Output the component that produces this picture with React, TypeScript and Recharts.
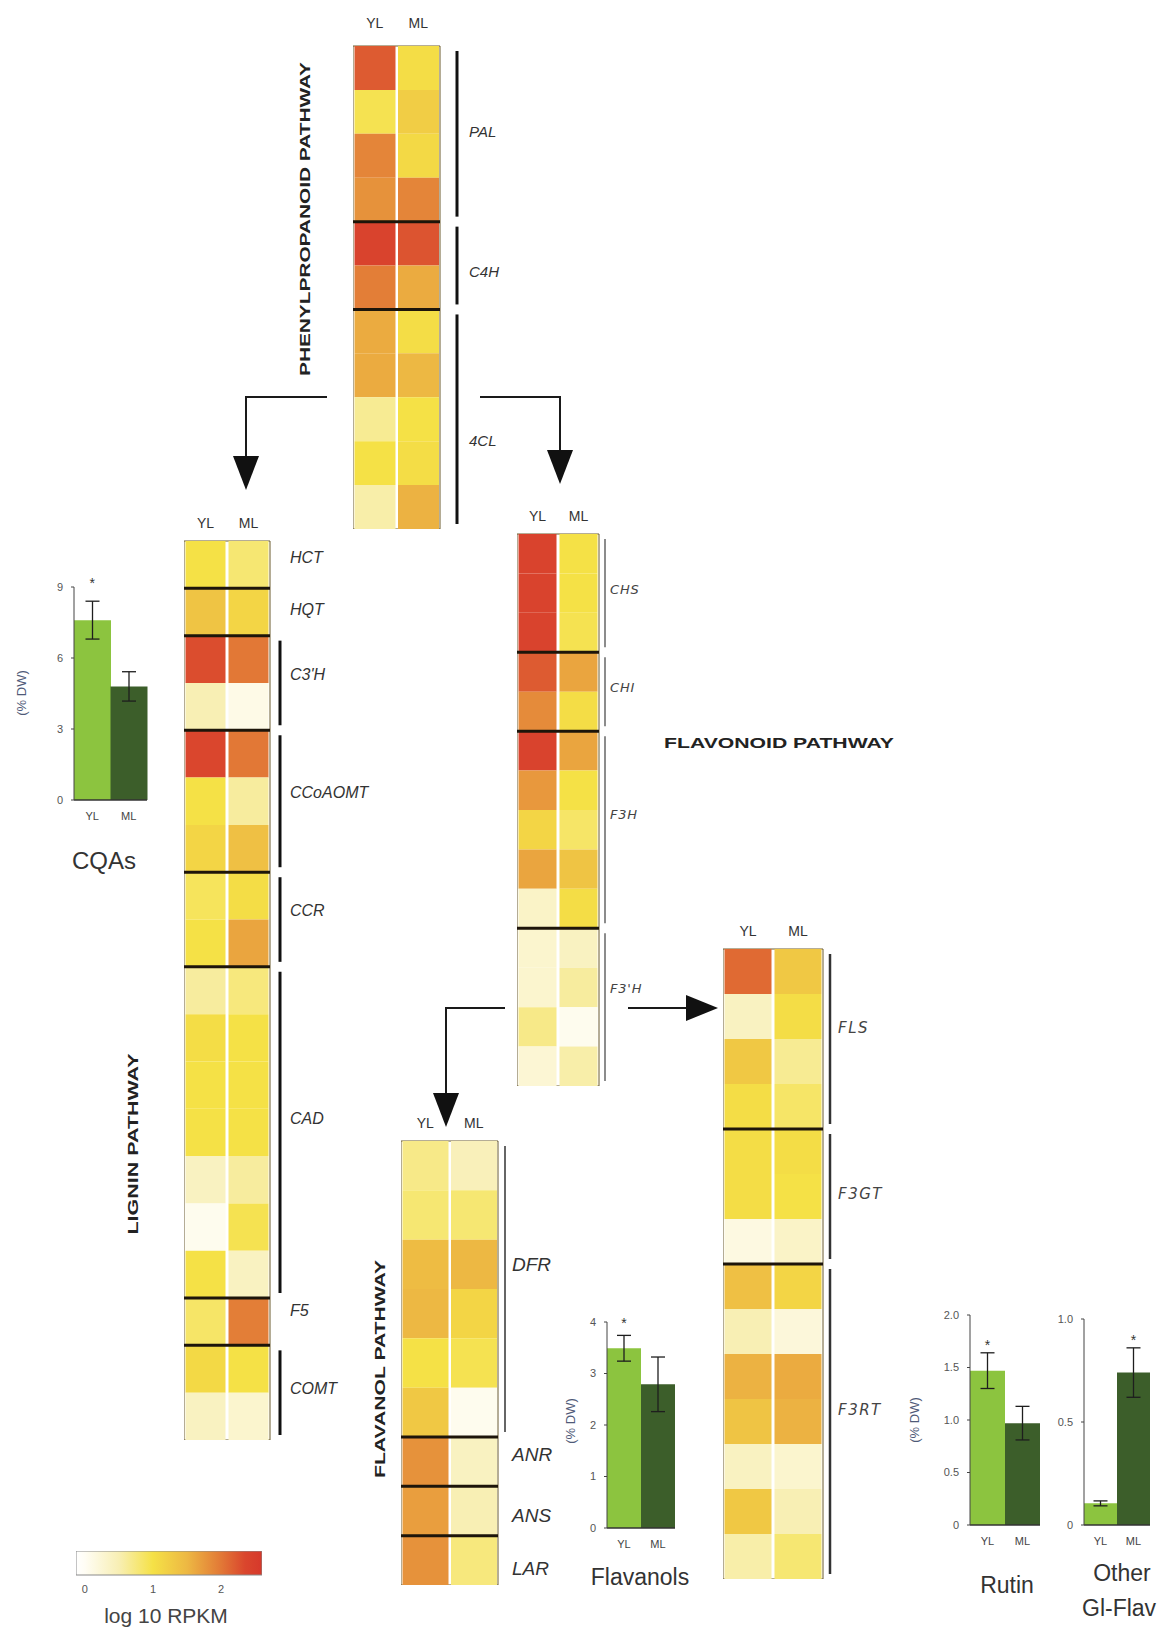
import React from "react";
import {
	BarChart,
	Bar,
	Cell,
	XAxis,
	YAxis,
	ReferenceLine,
	ReferenceArea,
	ReferenceDot,
	ErrorBar,
	ComposedChart,
	Line,
} from "recharts";

const cols = ["YL", "ML"];

// log10 RPKM per gene row, YL / ML
const ppGenes = ["PAL", "C4H", "4CL"];
const ppSizes = [4, 2, 5];
const ppYL = [2.2, 0.95, 1.9, 1.8, 2.4, 1.95, 1.6, 1.6, 0.65, 1.0, 0.55];
const ppML = [1.05, 1.25, 1.1, 1.9, 2.25, 1.6, 1.05, 1.5, 1.0, 1.05, 1.55];

const ligGenes = ["HCT", "HQT", "C3'H", "CCoAOMT", "CCR", "CAD", "F5", "COMT"];
const ligSizes = [1, 1, 2, 3, 2, 7, 1, 2];
const ligYL = [1.0, 1.35, 2.3, 0.5, 2.35, 1.0, 1.15, 0.9, 1.0, 0.6, 1.05, 1.0, 1.0, 0.4, 0.05, 1.0, 0.85, 1.1, 0.4];
const ligML = [0.8, 1.15, 2.0, 0.1, 2.0, 0.6, 1.4, 1.05, 1.65, 0.75, 1.0, 1.0, 1.0, 0.6, 0.95, 0.4, 1.95, 1.0, 0.3];

const flvGenes = ["CHS", "CHI", "F3H", "F3'H"];
const flvSizes = [3, 2, 5, 4];
const flvYL = [2.4, 2.4, 2.4, 2.2, 1.85, 2.4, 1.75, 1.15, 1.65, 0.35, 0.3, 0.3, 0.7, 0.25];
const flvML = [1.0, 1.0, 0.95, 1.65, 1.05, 1.65, 1.0, 0.85, 1.35, 1.05, 0.4, 0.6, 0.05, 0.55];

const flsGenes = ["FLS", "F3GT", "F3RT"];
const flsSizes = [4, 3, 7];
const flsYL = [2.1, 0.4, 1.3, 1.05, 1.05, 1.05, 0.15, 1.4, 0.5, 1.55, 1.35, 0.4, 1.3, 0.55];
const flsML = [1.3, 1.05, 0.65, 0.85, 1.05, 1.0, 0.35, 1.15, 0.2, 1.6, 1.55, 0.3, 0.5, 0.8];

const fvlGenes = ["DFR", "ANR", "ANS", "LAR"];
const fvlSizes = [6, 1, 1, 1];
const fvlYL = [0.7, 0.8, 1.45, 1.5, 1.0, 1.3, 1.8, 1.7, 1.8];
const fvlML = [0.45, 0.8, 1.5, 1.15, 0.95, 0.05, 0.4, 0.5, 0.75];

// metabolite contents (% DW), mean and error
const cqaVals = [7.6, 4.8];
const cqaErrs = [0.8, 0.62];
const flavanolVals = [3.49, 2.79];
const flavanolErrs = [0.25, 0.53];
const rutinVals = [1.47, 0.97];
const rutinErrs = [0.17, 0.16];
const otherVals = [0.105, 0.74];
const otherErrs = [0.012, 0.12];

const legendTicks = [0, 1, 2];
const legendDomain: [number, number] = [-0.13, 2.6];

// colour scale of the heatmaps
const heatStops: [number, string][] = [
	[-0.13, "#ffffff"],
	[0, "#fffdf4"],
	[0.5, "#f8efb4"],
	[1.0, "#f5e146"],
	[1.5, "#edb843"],
	[2.0, "#e27836"],
	[2.35, "#da462d"],
	[2.6, "#d6382b"],
];

const hex = (c: string) => [1, 3, 5].map((i) => parseInt(c.slice(i, i + 2), 16));

function heat(v: number) {
	const s = heatStops;
	if (v <= s[0][0]) return s[0][1];
	for (let i = 1; i < s.length; i++) {
		if (v <= s[i][0]) {
			const t = (v - s[i - 1][0]) / (s[i][0] - s[i - 1][0]);
			const a = hex(s[i - 1][1]);
			const b = hex(s[i][1]);
			const m = a.map((x, k) => Math.round(x + (b[k] - x) * t));
			return `rgb(${m[0]},${m[1]},${m[2]})`;
		}
	}
	return s[s.length - 1][1];
}

const SANS = "'Liberation Sans', Arial, sans-serif";
const NARROW = "'Liberation Sans Narrow', 'Liberation Sans', Arial, sans-serif";
const WIDE = "'DejaVu Sans', Verdana, sans-serif";

interface HeatProps {
	yl: number[];
	ml: number[];
	genes: string[];
	sizes: number[];
	left: number;
	top: number;
	w: number;
	h: number;
	axisW: number;
	bracketDx: number;
	labelDx: number;
	labelDy: number[];
	fontSize: number;
	font: string;
	spacing?: number;
	bracketColor: string;
	bracketW: number;
	labelColor?: string;
	headGap?: number;
}

function Heatmap(p: HeatProps) {
	const headH = 40;
	const n = p.yl.length;
	const keys = p.yl.map((_, i) => `r${i}`);
	const data = cols.map((c) => {
		const o: Record<string, any> = { col: c };
		keys.forEach((k) => (o[k] = 1));
		return o;
	});
	const starts = [0];
	p.sizes.forEach((s) => starts.push(starts[starts.length - 1] + s));
	const mids = p.sizes.map((s, i) => starts[i] + s / 2);
	const rowPx = p.h / n;

	const tick = (t: any) => {
		const idx = mids.indexOf(t.payload.value);
		if (idx < 0) return <g />;
		const half = (p.sizes[idx] / 2) * rowPx;
		return (
			<g>
				{p.sizes[idx] > 1 && (
					<line
						x1={t.x + p.bracketDx}
						x2={t.x + p.bracketDx}
						y1={t.y - half + 5}
						y2={t.y + half - 5}
						stroke={p.bracketColor}
						strokeWidth={p.bracketW}
					/>
				)}
				<text
					x={t.x + p.labelDx}
					y={t.y + p.labelDy[idx]}
					dy="0.35em"
					fontSize={p.fontSize}
					fontStyle="italic"
					fontFamily={p.font}
					letterSpacing={p.spacing ?? 0}
					fill={p.labelColor ?? "#333"}
				>
					{p.genes[idx]}
				</text>
			</g>
		);
	};

	return (
		<div style={{ position: "absolute", left: p.left, top: p.top - headH }}>
			<BarChart
				width={p.w + p.axisW}
				height={p.h + headH}
				data={data}
				margin={{ top: 0, right: 0, bottom: 0, left: 0 }}
				barCategoryGap={1.5}
			>
				<XAxis
					dataKey="col"
					orientation="top"
					height={headH}
					axisLine={false}
					tickLine={false}
					tickSize={0}
					tickMargin={p.headGap ?? 13}
					tick={{ fontSize: 14, fill: "#333", fontFamily: NARROW }}
				/>
				<YAxis
					type="number"
					orientation="right"
					domain={[0, n]}
					reversed
					ticks={mids}
					interval={0}
					width={p.axisW}
					axisLine={false}
					tickLine={false}
					tickSize={0}
					tickMargin={0}
					tick={tick}
				/>
				{keys.map((k, i) => (
					<Bar key={k} dataKey={k} stackId="s" isAnimationActive={false}>
						<Cell fill={heat(p.yl[i])} />
						<Cell fill={heat(p.ml[i])} />
					</Bar>
				))}
				{starts.slice(1, -1).map((b) => (
					<ReferenceLine key={b} y={b} stroke="#1d150a" strokeWidth={3} />
				))}
				<ReferenceArea y1={0} y2={n} fill="none" stroke="#6a5a2c" strokeWidth={1} />
			</BarChart>
		</div>
	);
}

interface BarsProps {
	vals: number[];
	errs: number[];
	starIdx: number;
	starY: number;
	max: number;
	ticks: number[];
	fmt: (v: number) => string;
	axisX: number;
	y0: number;
	yTop: number;
	barW: number;
}

function MiniBars(p: BarsProps) {
	const axisW = 32;
	const topM = 14;
	const xH = 22;
	const data = cols.map((c, i) => ({ name: c, v: p.vals[i], err: p.errs[i] }));
	const plotH = p.y0 - p.yTop;
	return (
		<div style={{ position: "absolute", left: p.axisX - axisW, top: p.yTop - topM }}>
			<BarChart
				width={axisW + 2 * p.barW + 2}
				height={topM + plotH + xH}
				data={data}
				margin={{ top: topM, right: 2, bottom: 0, left: 0 }}
				barCategoryGap={0}
			>
				<XAxis
					dataKey="name"
					height={xH}
					axisLine={{ stroke: "#333", strokeWidth: 1.5 }}
					tickLine={false}
					tickMargin={6}
					tick={{ fontSize: 11, fill: "#444", fontFamily: NARROW }}
				/>
				<YAxis
					type="number"
					domain={[0, p.max]}
					ticks={p.ticks}
					interval={0}
					width={axisW}
					tickFormatter={p.fmt}
					axisLine={{ stroke: "#444" }}
					tickLine={{ stroke: "#444" }}
					tickSize={3}
					tickMargin={8}
					tick={{ fontSize: 11, fill: "#555", fontFamily: SANS }}
				/>
				<Bar dataKey="v" isAnimationActive={false}>
					<Cell fill="#8cc43f" />
					<Cell fill="#3c5e2a" />
					<ErrorBar dataKey="err" width={7} stroke="#1e1e1e" strokeWidth={1.3} direction="y" />
				</Bar>
				<ReferenceDot
					x={cols[p.starIdx]}
					y={p.starY}
					r={0}
					ifOverflow="visible"
					shape={(s: any) => (
						<text x={s.cx} y={s.cy} dy="0.55em" textAnchor="middle" fontSize={14} fill="#333" fontFamily={SANS}>
							*
						</text>
					)}
				/>
			</BarChart>
		</div>
	);
}

function HeatLegend() {
	const span = legendDomain[1] - legendDomain[0];
	return (
		<div style={{ position: "absolute", left: 76, top: 1551 }}>
			<ComposedChart
				width={186}
				height={44}
				data={legendDomain.map((v) => ({ v, y: 0.5 }))}
				margin={{ top: 0, right: 0, bottom: 0, left: 0 }}
			>
				<defs>
					<linearGradient id="heatGrad" x1="0" x2="1" y1="0" y2="0">
						{heatStops.map(([v, c]) => (
							<stop key={v} offset={(v - legendDomain[0]) / span} stopColor={c} />
						))}
					</linearGradient>
				</defs>
				<XAxis
					dataKey="v"
					type="number"
					domain={legendDomain}
					ticks={legendTicks}
					allowDataOverflow
					height={20}
					axisLine={false}
					tickLine={false}
					tickMargin={4}
					tick={{ fontSize: 11, fill: "#555", fontFamily: SANS }}
				/>
				<YAxis hide type="number" domain={[0, 1]} allowDataOverflow />
				<Line dataKey="y" stroke="none" dot={false} isAnimationActive={false} />
				<ReferenceArea
					x1={legendDomain[0]}
					x2={legendDomain[1]}
					y1={0}
					y2={1}
					fill="url(#heatGrad)"
					fillOpacity={1}
					stroke="#8a8a8a"
					strokeWidth={1}
				/>
			</ComposedChart>
		</div>
	);
}

function Overlay() {
	const t = { fontFamily: SANS, fill: "#222" };
	return (
		<svg width={1165} height={1627} style={{ position: "absolute", left: 0, top: 0, pointerEvents: "none" }}>
			{/* arrows */}
			<g stroke="#1a1a1a" strokeWidth={2} fill="none">
				<path d="M327 397 H246 V460" />
				<path d="M480 397 H560 V454" />
				<path d="M505 1008 H446 V1097" />
				<path d="M628 1008 H690" />
			</g>
			<g fill="#111">
				<polygon points="233,456 259,456 246,490" />
				<polygon points="547,450 573,450 560,484" />
				<polygon points="433,1093 459,1093 446,1127" />
				<polygon points="686,995 686,1021 718,1008" />
			</g>
			{/* pathway titles */}
			<text
				transform="translate(304 219) rotate(-90)"
				textAnchor="middle"
				dominantBaseline="central"
				fontSize={15}
				fontWeight="bold"
				textLength={314}
				lengthAdjust="spacingAndGlyphs"
				{...t}
			>
				PHENYLPROPANOID PATHWAY
			</text>
			<text
				transform="translate(132 1144) rotate(-90)"
				textAnchor="middle"
				dominantBaseline="central"
				fontSize={15}
				fontWeight="bold"
				textLength={181}
				lengthAdjust="spacingAndGlyphs"
				{...t}
			>
				LIGNIN PATHWAY
			</text>
			<text
				transform="translate(379 1369) rotate(-90)"
				textAnchor="middle"
				dominantBaseline="central"
				fontSize={15}
				fontWeight="bold"
				textLength={218}
				lengthAdjust="spacingAndGlyphs"
				{...t}
			>
				FLAVANOL PATHWAY
			</text>
			<text
				x={664}
				y={742}
				dominantBaseline="central"
				fontSize={15}
				fontWeight="bold"
				textLength={230}
				lengthAdjust="spacingAndGlyphs"
				{...t}
			>
				FLAVONOID PATHWAY
			</text>
			{/* axis labels of the bar charts */}
			{[
				[21, 693],
				[570, 1421],
				[914, 1420],
			].map(([x, y]) => (
				<text
					key={x}
					transform={`translate(${x} ${y}) rotate(-90)`}
					textAnchor="middle"
					dominantBaseline="central"
					fontSize={13}
					fontFamily={SANS}
					fill="#4f5a78"
				>
					(% DW)
				</text>
			))}
			{/* chart titles */}
			<g fontFamily={SANS} fill="#333" fontSize={23} textAnchor="middle" dominantBaseline="central">
				<text x={104} y={860} fontSize={24}>CQAs</text>
				<text x={640} y={1577}>Flavanols</text>
				<text x={1007} y={1585}>Rutin</text>
				<text x={1122} y={1573}>Other</text>
				<text x={1082} y={1608} textAnchor="start">Gl-Flav</text>
			</g>
			<text x={166} y={1615} textAnchor="middle" dominantBaseline="central" fontSize={21} fontFamily={SANS} fill="#444">
				log 10 RPKM
			</text>
		</svg>
	);
}

export default function App() {
	return (
		<div style={{ position: "absolute", left: 0, top: 0, width: 1165, height: 1627, background: "#fff", overflow: "hidden" }}>
			<Overlay />
			<Heatmap
				yl={ppYL}
				ml={ppML}
				genes={ppGenes}
				sizes={ppSizes}
				left={353}
				top={46}
				w={87}
				h={483}
				axisW={70}
				bracketDx={17}
				labelDx={29}
				labelDy={[-2, 6, 22]}
				fontSize={15}
				font={NARROW}
				bracketColor="#111"
				bracketW={3}
				headGap={18}
			/>
			<Heatmap
				yl={ligYL}
				ml={ligML}
				genes={ligGenes}
				sizes={ligSizes}
				left={184}
				top={541}
				w={86}
				h={899}
				axisW={110}
				bracketDx={10}
				labelDx={20}
				labelDy={[-7, -3, -9, -9, -9, -14, -11, -4]}
				fontSize={16}
				font={NARROW}
				bracketColor="#111"
				bracketW={3}
			/>
			<Heatmap
				yl={flvYL}
				ml={flvML}
				genes={flvGenes}
				sizes={flvSizes}
				left={517}
				top={534}
				w={82}
				h={552}
				axisW={50}
				bracketDx={6}
				labelDx={11}
				labelDy={[-4, -4, -15, -19]}
				fontSize={13}
				spacing={0.8}
				font={WIDE}
				bracketColor="#666"
				bracketW={1.5}
				labelColor="#444"
			/>
			<Heatmap
				yl={flsYL}
				ml={flsML}
				genes={flsGenes}
				sizes={flsSizes}
				left={723}
				top={949}
				w={100}
				h={630}
				axisW={70}
				bracketDx={7}
				labelDx={15}
				labelDy={[-11, -3, -12]}
				fontSize={15}
				spacing={1.5}
				font={WIDE}
				bracketColor="#333"
				bracketW={2.5}
				labelColor="#444"
			/>
			<Heatmap
				yl={fvlYL}
				ml={fvlML}
				genes={fvlGenes}
				sizes={fvlSizes}
				left={401}
				top={1141}
				w={97}
				h={444}
				axisW={60}
				bracketDx={7}
				labelDx={14}
				labelDy={[-25, -7, 4, 8]}
				fontSize={19}
				font={SANS}
				bracketColor="#666"
				bracketW={2}
			/>
			<MiniBars
				vals={cqaVals}
				errs={cqaErrs}
				starIdx={0}
				starY={9.3}
				max={9}
				ticks={[0, 3, 6, 9]}
				fmt={(v) => String(v)}
				axisX={74}
				y0={800}
				yTop={587}
				barW={36.5}
			/>
			<MiniBars
				vals={flavanolVals}
				errs={flavanolErrs}
				starIdx={0}
				starY={4.03}
				max={4}
				ticks={[0, 1, 2, 3, 4]}
				fmt={(v) => String(v)}
				axisX={607}
				y0={1528}
				yTop={1322}
				barW={34}
			/>
			<MiniBars
				vals={rutinVals}
				errs={rutinErrs}
				starIdx={0}
				starY={1.74}
				max={2}
				ticks={[0, 0.5, 1, 1.5, 2]}
				fmt={(v) => (v === 0 ? "0" : v.toFixed(1))}
				axisX={970}
				y0={1525}
				yTop={1315}
				barW={35}
			/>
			<MiniBars
				vals={otherVals}
				errs={otherErrs}
				starIdx={1}
				starY={0.91}
				max={1}
				ticks={[0, 0.5, 1]}
				fmt={(v) => (v === 0 ? "0" : v.toFixed(1))}
				axisX={1084}
				y0={1525}
				yTop={1319}
				barW={33}
			/>
			<HeatLegend />
		</div>
	);
}
